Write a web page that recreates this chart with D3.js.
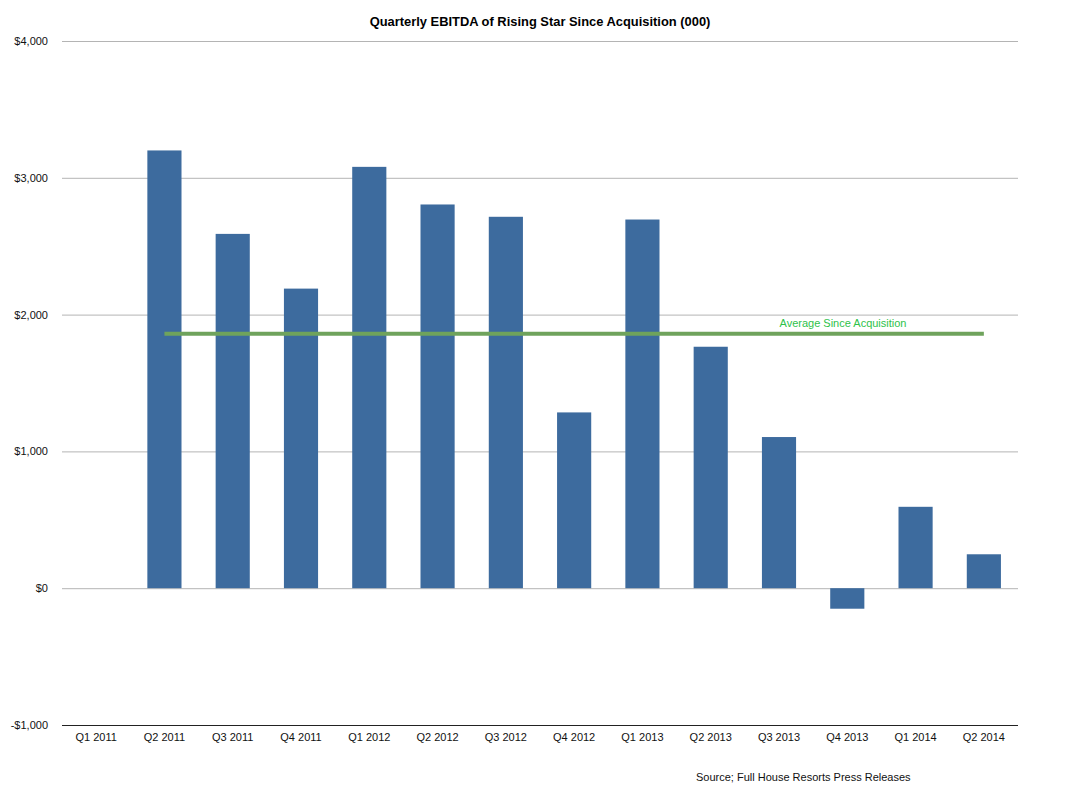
<!DOCTYPE html>
<html><head><meta charset="utf-8">
<script src="https://cdn.jsdelivr.net/npm/d3@7"></script>
<style>body{margin:0;background:#fff}svg{display:block}text{font-family:"Liberation Sans",Arial,Helvetica,sans-serif}</style>
</head><body><svg id="c" width="1082" height="795"></svg>
<script>
const categories = ["Q1 2011","Q2 2011","Q3 2011","Q4 2011","Q1 2012","Q2 2012","Q3 2012","Q4 2012","Q1 2013","Q2 2013","Q3 2013","Q4 2013","Q1 2014","Q2 2014"];
const ebitda = [null,3200,2590,2190,3080,2805,2715,1285,2695,1765,1105,-150,595,248];
const averageValue = 1860;
const averageSpan = ["Q2 2011","Q2 2014"];
const yTicks = [-1000,0,1000,2000,3000,4000];

const svg = d3.select("#c");
const m = {left:62, right:1018, top:41, bottom:725};
const x = d3.scaleBand().domain(categories).range([m.left,m.right]).paddingInner(0.5).paddingOuter(0.25);
const y = d3.scaleLinear().domain([-1000,4000]).range([m.bottom,m.top]);

// gridlines
svg.append("g").selectAll("line").data(yTicks.filter(d=>d!==-1000)).join("line")
  .attr("x1",m.left).attr("x2",m.right)
  .attr("y1",d=>y(d)+0.5).attr("y2",d=>y(d)+0.5)
  .attr("stroke","#b4b4b4").attr("stroke-width",1);

// y tick labels
const fmt = d => (d<0?"-":"") + "$" + d3.format(",")(Math.abs(d));
svg.append("g").selectAll("text").data(yTicks).join("text")
  .attr("x",48).attr("y",d=>y(d)+4)
  .attr("text-anchor","end").attr("font-size",11).attr("fill","#111")
  .text(fmt);

// bars
svg.append("g").selectAll("rect").data(categories.map((c,i)=>({c,v:ebitda[i]})).filter(d=>d.v!==null)).join("rect")
  .attr("x",d=>x(d.c)).attr("width",x.bandwidth())
  .attr("y",d=>y(Math.max(0,d.v))).attr("height",d=>Math.abs(y(d.v)-y(0)))
  .attr("fill","#3d6b9e");

// bottom axis line
svg.append("line").attr("x1",m.left).attr("x2",m.right)
  .attr("y1",y(-1000)+0.5).attr("y2",y(-1000)+0.5).attr("stroke","#222").attr("stroke-width",1);

// x labels
svg.append("g").selectAll("text").data(categories).join("text")
  .attr("x",d=>x(d)+x.bandwidth()/2).attr("y",741)
  .attr("text-anchor","middle").attr("font-size",11).attr("fill","#111")
  .text(d=>d);

// average line
const ax1 = x(averageSpan[0])+x.bandwidth()/2, ax2 = x(averageSpan[1])+x.bandwidth()/2;
svg.append("line").attr("x1",ax1).attr("x2",ax2)
  .attr("y1",y(averageValue)).attr("y2",y(averageValue))
  .attr("stroke","#6fa35c").attr("stroke-width",4);
svg.append("text").attr("x",843).attr("y",327).attr("text-anchor","middle")
  .attr("font-size",11).attr("fill","#2ec24a").text("Average Since Acquisition");

// title
svg.append("text").attr("x",540).attr("y",26).attr("text-anchor","middle")
  .attr("font-size",12.9).attr("font-weight","bold").attr("fill","#000")
  .text("Quarterly EBITDA of Rising Star Since Acquisition (000)");

// source
svg.append("text").attr("x",696).attr("y",781).attr("font-size",11).attr("fill","#111")
  .text("Source; Full House Resorts Press Releases");
</script></body></html>
